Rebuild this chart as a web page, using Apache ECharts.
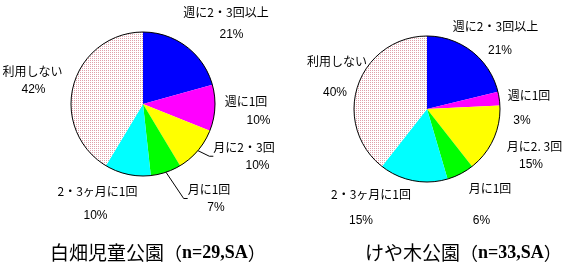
<!DOCTYPE html>
<html><head><meta charset="utf-8">
<script src="https://cdn.jsdelivr.net/npm/echarts@6/dist/echarts.min.js"></script>
<style>html,body{margin:0;padding:0;background:#fff}#c{width:572px;height:270px}</style>
</head><body><div id="c"></div>
<script>
// ---- data ----
const categoriesA = ['週に2・3回以上','週に1回','月に2・3回','月に1回','2・3ヶ月に1回','利用しない'];
const valuesA = [6, 3, 3, 2, 3, 12];          // 白畑児童公園 n=29
const categoriesB = ['週に2・3回以上','週に1回','月に2. 3回','月に1回','2・3ヶ月に1回','利用しない'];
const valuesB = [7, 1, 5, 2, 5, 13];          // けや木公園 n=33
const titleNameA = '白畑児童公園';
const titleNoteA = 'n=29,SA';
const titleNameB = 'けや木公園';
const titleNoteB = 'n=33,SA';

// ---- styles / layout ----
const JP = '"Noto Sans CJK JP","Noto Sans",sans-serif';
function makePattern(){
  const c = document.createElement('canvas'); c.width = 2; c.height = 2;
  const g = c.getContext('2d');
  g.fillStyle = '#ffffff'; g.fillRect(0,0,2,2);
  g.fillStyle = '#e0a0aa'; g.fillRect(0,0,1,1);
  return {image: c, repeat: 'repeat'};
}
const sliceColors = ['#0000ff','#ff00ff','#ffff00','#00ff00','#00ffff', makePattern()];
// label anchors: [nameCx, nameCy, pctCx, pctCy]
const labelPosA = [[226,12.5,231.5,35],[246,101.5,258.5,120.5],[244,147,257.5,165.5],[209,189,216,208],[97.5,191,95.5,216],[32.5,71,33.5,89.5]];
const labelPosB = [[495.5,26,500,51],[529,95,522,121],[534.5,146,531,165],[490,188.5,481.5,221],[371,194,361,221],[337,61,335,92.5]];
const lineItemsA = [2,3];
const lineItemsB = [5];

function pieSeries(names, values, center, radius, pos, lineItems){
  const rich = {};
  pos.forEach((p,i)=>{
    const gap = p[3]-p[1];
    const shift = 2*(p[2]-p[0]);
    rich['n'+i] = {fontFamily: JP, fontSize: 12, color:'#000', lineHeight: gap, align:'center'};
    rich['p'+i] = {fontFamily: '"Liberation Sans",Arial,sans-serif', fontSize: 12, color:'#000', lineHeight: gap, align:'center',
      padding: shift >= 0 ? [0,0,0,shift] : [0,-shift,0,0]};
  });
  return {
    type:'pie', center: center, radius: radius, startAngle: 90, clockwise: true,
    avoidLabelOverlap: false, percentPrecision: 0, animation: false,
    itemStyle: {borderWidth: 0},
    emphasis: {disabled: true},
    label: {show: true, position: 'outside', rich: rich,
      formatter: p => `{n${p.dataIndex}|${p.name}}\n{p${p.dataIndex}|${p.percent}%}`},
    labelLine: {show: false, length: 6, length2: 4, lineStyle: {color:'#000', width: 1}},
    labelLayout: function(params){
      const p = pos[params.dataIndex];
      const gap = p[3]-p[1];
      return {x: p[0], y: p[1]-gap/2, align: 'center', verticalAlign: 'top'};
    },
    data: names.map((n,i)=>({name: n, value: values[i], itemStyle:{color: sliceColors[i]},
      labelLine: {show: lineItems.indexOf(i) >= 0}}))
  };
}
function outlineSeries(center, radius){
  return {type:'pie', center: center, radius: radius, silent: true, animation:false, z: 3,
    label:{show:false}, labelLine:{show:false}, emphasis:{disabled:true},
    itemStyle:{color:'rgba(0,0,0,0)', borderColor:'#000', borderWidth:1},
    data:[{value:1}]};
}
function titleText(name, note){
  return `{a|${name}}{b|（}{c|${note}}{b|）}`;
}
const titleRich = {
  a:{fontFamily: JP, fontSize: 19, fontWeight:'normal', color:'#000', lineHeight: 24},
  b:{fontFamily: JP, fontSize: 18, fontWeight:'normal', color:'#000', lineHeight: 24},
  c:{fontFamily: '"Liberation Serif","Times New Roman",serif', fontWeight:'bold', fontSize: 18, color:'#000', lineHeight: 24}
};

const chart = echarts.init(document.getElementById('c'), null, {renderer:'canvas'});
chart.setOption({
  backgroundColor: '#ffffff',
  animation: false,
  title: [
    {text: titleText(titleNameA, titleNoteA), left: 50, top: 241, padding: 0, textStyle:{fontWeight:'normal', rich: titleRich}},
    {text: titleText(titleNameB, titleNoteB), left: 365, top: 241, padding: 0, textStyle:{fontWeight:'normal', rich: titleRich}}
  ],
  series: [
    pieSeries(categoriesA, valuesA, [143,104], 72, labelPosA, lineItemsA),
    outlineSeries([143,104], 72),
    pieSeries(categoriesB, valuesB, [427,109], 73, labelPosB, lineItemsB),
    outlineSeries([427,109], 73)
  ]
});
</script></body></html>
